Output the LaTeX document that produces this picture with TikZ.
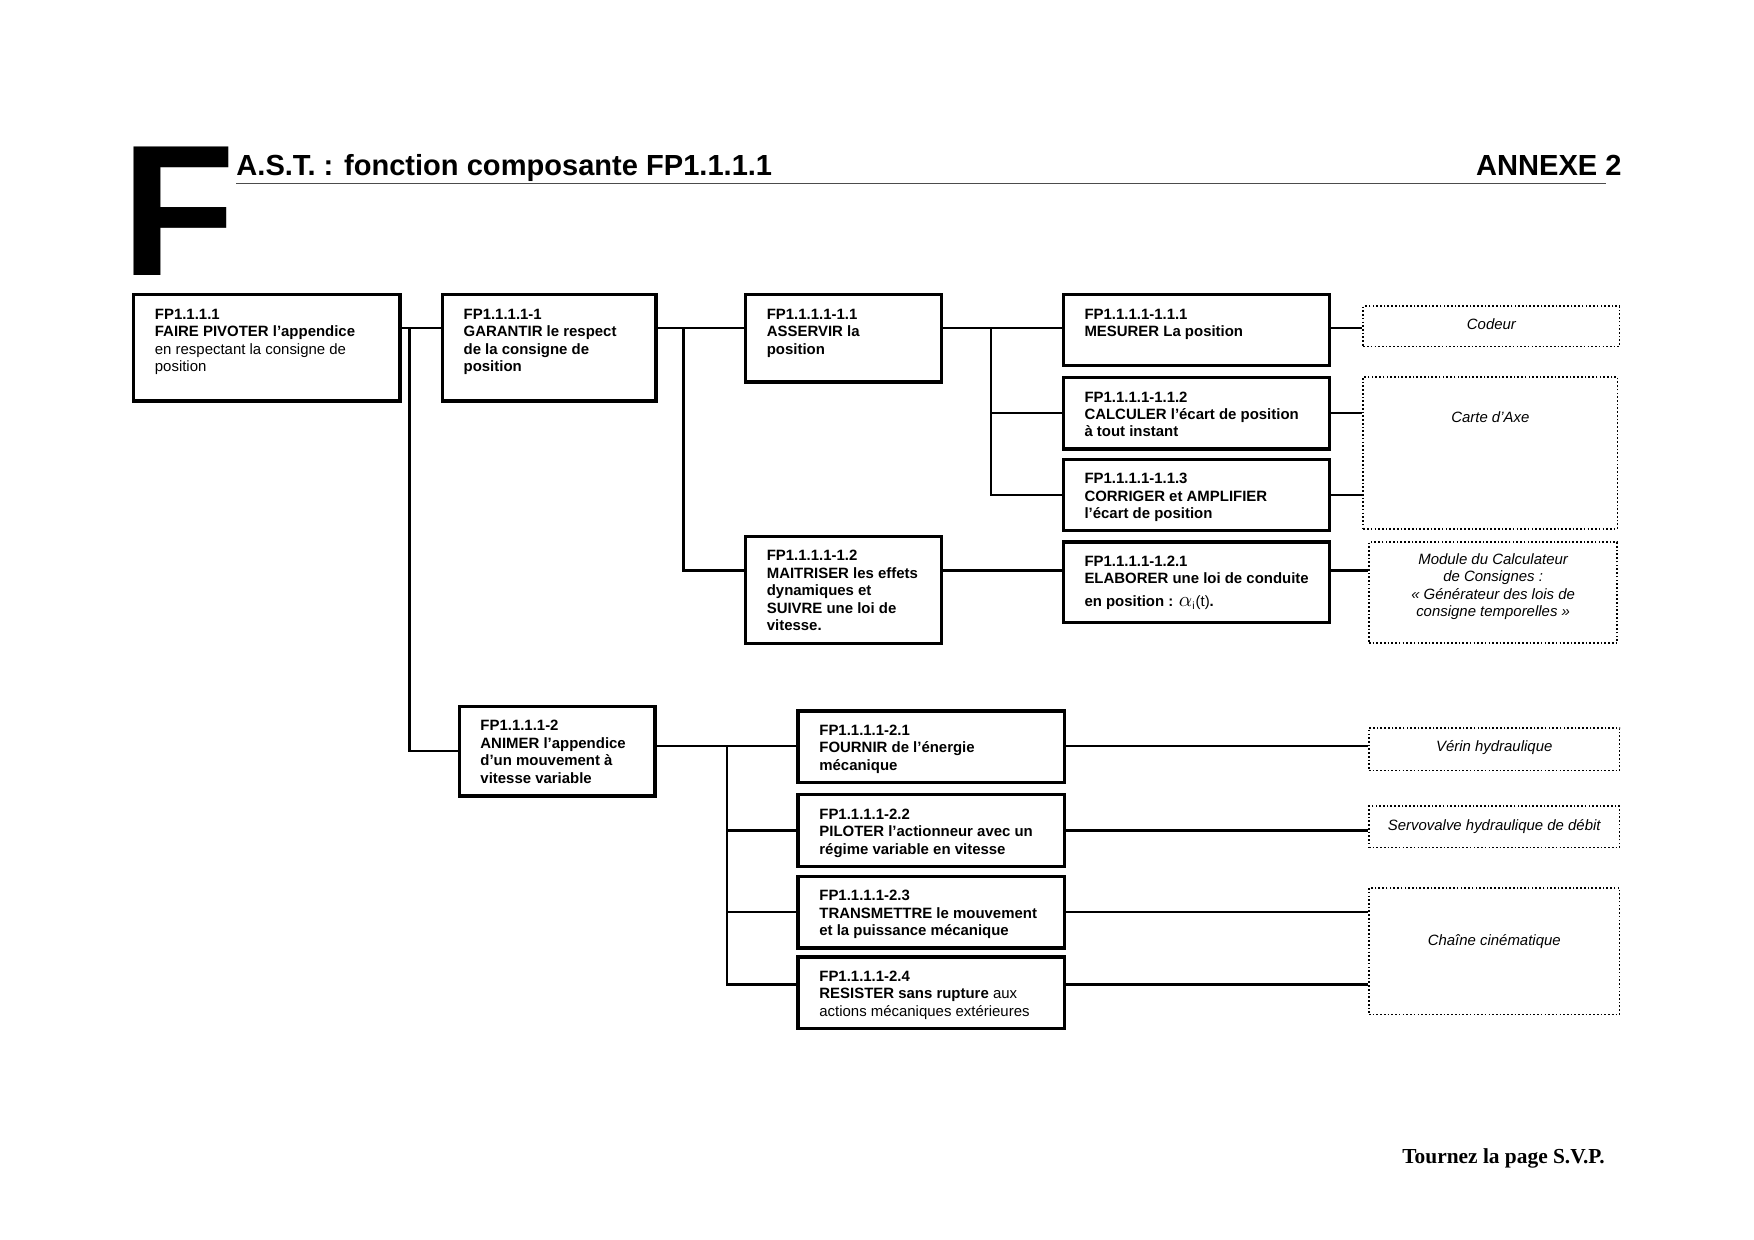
\documentclass[tikz,border=0pt]{standalone}
\usepackage{fontspec}
\setmainfont{Liberation Sans}
\newfontfamily\footfont{Liberation Serif}

% one page pixel of the reference
\newdimen\upx
\upx=0.53893pt

% framed text: width, height, gap above the first line (in page pixels), text
\newcommand{\fpbox}[4]{\parbox[t][#2\upx][t]{#1\upx}{\raggedright\leftskip=19\upx\relax\vspace*{#3\upx}\strut#4}}
\newcommand{\hwbox}[4]{\parbox[t][#2\upx][t]{#1\upx}{\centering\vspace*{#3\upx}\strut#4}}

\begin{document}
\begin{tikzpicture}[
  x=0.018941cm, y=-0.018941cm,
  fp/.style={draw, line width=1.6pt, anchor=north west, inner sep=0pt,
    font=\fontsize{7.2}{8.4}\selectfont\bfseries},
  hw/.style={draw, line width=0.8pt, densely dotted, anchor=north west, inner sep=0pt,
    font=\fontsize{7.2}{8.4}\selectfont\itshape},
  link/.style={line width=1.1pt},
  heading/.style={inner sep=0pt, font=\fontsize{14}{16}\selectfont\bfseries}
]
  \useasboundingbox (0,0) rectangle (1568,1108.5);

  % page header
  \node[inner sep=0pt, anchor=base west, font=\fontsize{90}{90}\selectfont\bfseries] (bigF) at (108,246) {F};
  \node[heading, anchor=base west] (title) at (211,157) {A.S.T. : fonction composante FP1.1.1.1};
  \node[heading, anchor=base east] (annexe) at (1450,157) {ANNEXE 2};
  \draw[gray!60!black, line width=0.6pt] (211,164) -- (1436,164);

  % functions, first level
  \node[fp] (A) at (118,262) {\fpbox{238}{95}{11}{FP1.1.1.1\\FAIRE PIVOTER l’appendice\\\mdseries en respectant la consigne de\\position}};
  \node[fp] (B) at (394,262) {\fpbox{191}{95}{11}{FP1.1.1.1-1\\GARANTIR le respect\\de la consigne de\\position}};
  \node[fp] (I) at (409,630) {\fpbox{175}{80}{11}{FP1.1.1.1-2\\ANIMER l’appendice\\d’un mouvement à\\vitesse variable}};

  % second level
  \node[fp] (C) at (665,262) {\fpbox{175}{78}{11}{FP1.1.1.1-1.1\\ASSERVIR la\\position}};
  \node[fp] (D) at (665,478) {\fpbox{175}{96}{11}{FP1.1.1.1-1.2\\MAITRISER les effets\\dynamiques et\\SUIVRE une loi de\\vitesse.}};

  % third level
  \node[fp] (E) at (949,262) {\fpbox{238}{63}{11}{FP1.1.1.1-1.1.1\\MESURER La position}};
  \node[fp] (F) at (949,336) {\fpbox{238}{64}{11}{FP1.1.1.1-1.1.2\\CALCULER l’écart de position\\à tout instant}};
  \node[fp] (G) at (949,409) {\fpbox{238}{64}{11}{FP1.1.1.1-1.1.3\\CORRIGER et AMPLIFIER\\l’écart de position}};
  \node[fp] (H) at (949,483) {\fpbox{238}{72}{11}{FP1.1.1.1-1.2.1\\ELABORER une loi de conduite\\[2.7pt]en position : {\mdseries\fontsize{10}{10}\selectfont$\alpha$}{\mdseries\textsubscript{i}(t)}.}};
  \node[fp] (J) at (712,634) {\fpbox{238}{64}{11}{FP1.1.1.1-2.1\\FOURNIR de l’énergie\\mécanique}};
  \node[fp] (K) at (712,709) {\fpbox{238}{64}{11}{FP1.1.1.1-2.2\\PILOTER l’actionneur avec un\\régime variable en vitesse}};
  \node[fp] (L) at (712,782) {\fpbox{238}{64}{11}{FP1.1.1.1-2.3\\TRANSMETTRE le mouvement\\et la puissance mécanique}};
  \node[fp] (M) at (712,854) {\fpbox{238}{64}{11}{FP1.1.1.1-2.4\\RESISTER sans rupture \mdseries aux\\actions mécaniques extérieures}};

  % solutions (dotted)
  \node[hw] (cod) at (1218,273) {\hwbox{229}{36}{10}{Codeur}};
  \node[hw] (carte) at (1218,336) {\hwbox{227}{136}{30}{Carte d’Axe}};
  \node[hw] (mod) at (1223,484) {\hwbox{222}{90}{9}{Module du Calculateur\\de Consignes :\\« Générateur des lois de\\consigne temporelles »}};
  \node[hw] (ver) at (1223,650) {\hwbox{224}{38}{10}{Vérin hydraulique}};
  \node[hw] (servo) at (1223,720) {\hwbox{224}{37}{11}{Servovalve hydraulique de débit}};
  \node[hw] (chaine) at (1223,793) {\hwbox{224}{113}{41}{Chaîne cinématique}};

  % junction rows and columns
  \coordinate (r1) at (0,293);
  \coordinate (r2) at (0,510);
  \coordinate (r3) at (0,880);
  \coordinate (j1) at (366,293);
  \coordinate (j2) at (611,293);
  \coordinate (j3) at (886,293);
  \coordinate (j4) at (650,667);

  % tree links
  \draw[link] (A.east |- r1) -- (B.west |- r1);
  \draw[link] (j1) |- (I.west);
  \draw[link] (B.east |- r1) -- (C.west |- r1);
  \draw[link] (j2) |- (D.west |- r2);
  \draw[link] (C.east |- r1) -- (E.west |- r1);
  \draw[link] (j3 |- F.west) -- (F.west);
  \draw[link] (j3) |- (G.west);
  \draw[link] (D.east |- r2) -- (H.west |- r2);
  \draw[link] (I.east |- j4) -- (J.west |- j4);
  \draw[link] (j4 |- K.west) -- (K.west);
  \draw[link] (j4 |- L.west) -- (L.west);
  \draw[link] (j4) |- (M.west |- r3);

  % links to the solutions
  \draw[link] (E.east |- r1) -- (cod.west |- r1);
  \draw[link] (F.east) -- (carte.west |- F.east);
  \draw[link] (G.east) -- (carte.west |- G.east);
  \draw[link] (H.east |- r2) -- (mod.west |- r2);
  \draw[link] (J.east |- j4) -- (ver.west |- j4);
  \draw[link] (K.east) -- (servo.west |- K.east);
  \draw[link] (L.east) -- (chaine.west |- L.east);
  \draw[link] (M.east |- r3) -- (chaine.west |- r3);

  % footer
  \node[inner sep=0pt, anchor=base east, font=\footfont\bfseries\fontsize{10.3}{12}\selectfont] (svp) at (1435,1040) {Tournez la page S.V.P.};
\end{tikzpicture}
\end{document}
